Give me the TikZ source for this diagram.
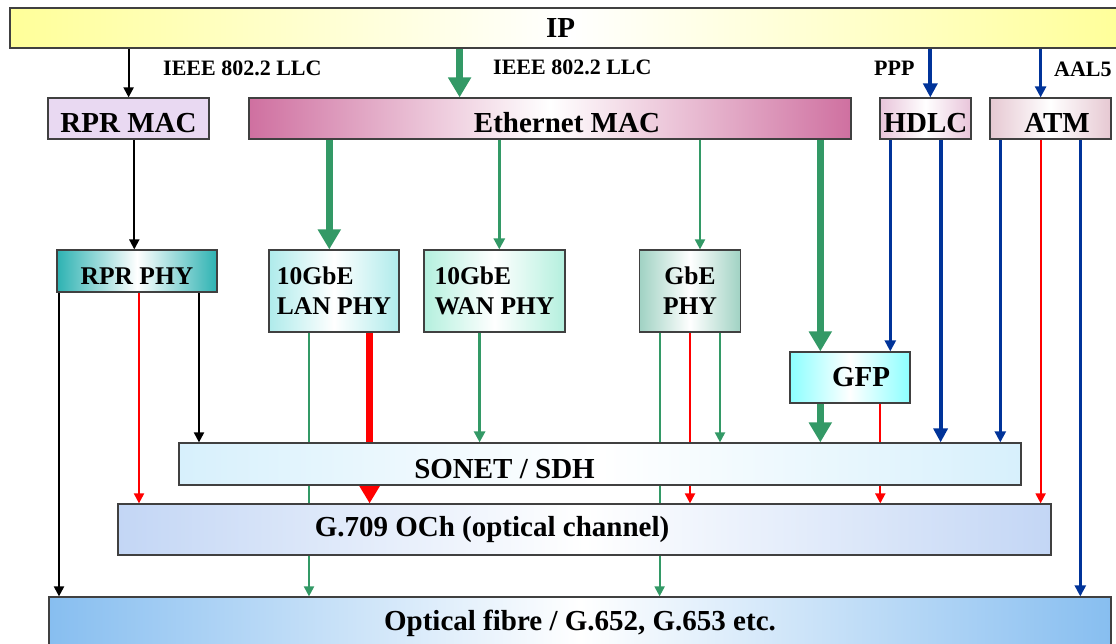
\documentclass[tikz,border=0pt]{standalone}
\usepackage{fontspec}
\setmainfont{Liberation Serif}
\usepackage{xcolor}
\usepackage{tikz}
\usetikzlibrary{arrows.meta,backgrounds}

\definecolor{ethgreen}{RGB}{51,153,102}
\definecolor{hdlcblue}{RGB}{0,51,153}
\definecolor{ipyellow}{RGB}{255,255,153}
\definecolor{rprlav}{RGB}{233,217,242}
\definecolor{macpink}{RGB}{207,112,160}
\definecolor{hdlcpink}{RGB}{232,196,218}
\definecolor{atmpink}{RGB}{230,200,210}
\definecolor{rprteal}{RGB}{45,178,178}
\definecolor{lancyan}{RGB}{175,235,235}
\definecolor{wanmint}{RGB}{180,240,222}
\definecolor{gbegreen}{RGB}{160,210,195}
\definecolor{gfpcyan}{RGB}{140,255,255}
\definecolor{sonetblue}{RGB}{215,240,252}
\definecolor{ochblue}{RGB}{195,214,245}
\definecolor{fibreblue}{RGB}{135,190,240}

\newcommand\bigtxt{\fontsize{29}{32}\selectfont\bfseries}
\newcommand\phytxt{\fontsize{25.5}{30}\selectfont\bfseries}
\newcommand\smalltxt{\fontsize{22}{24}\selectfont\bfseries}

\tikzset{
	box/.style={draw=black!75, line width=1.2pt, inner sep=0pt, font=\bigtxt},
	shade2/.style={left color=#1, right color=#1, middle color=white},
	lowtxt/.style={text height=28pt, text depth=0pt},
	lbl/.style={inner sep=0pt, anchor=west, font=\smalltxt},
	blk/.style={draw=black, line width=2pt, -{Triangle[width=10pt,length=10pt]}},
	redthin/.style={draw=red, line width=2pt, -{Triangle[width=10pt,length=10pt]}},
	redthick/.style={draw=red, line width=7pt, -{Triangle[width=20pt,length=18pt]}},
	grnthin/.style={draw=ethgreen, line width=2pt, -{Triangle[width=10pt,length=10pt]}},
	grnmid/.style={draw=ethgreen, line width=3pt, -{Triangle[width=11pt,length=11pt]}},
	grnthick/.style={draw=ethgreen, line width=7pt, -{Triangle[width=22pt,length=20pt]}},
	bluthin/.style={draw=hdlcblue, line width=2.5pt, -{Triangle[width=11pt,length=11pt]}},
	bluthick/.style={draw=hdlcblue, line width=4pt, -{Triangle[width=14pt,length=14pt]}}
}

\begin{document}
\begin{tikzpicture}[x=1pt,y=-1pt]

\useasboundingbox (0,0) rectangle (1116,644);

% layers, top to bottom
\node[box, shade2=ipyellow, minimum width=1115, minimum height=40] (ip) at (567.5,28) {IP\kern14pt};
\node[box, lowtxt, fill=rprlav, minimum width=161, minimum height=41] (rprmac) at (128.5,118.5) {RPR MAC};
\node[box, lowtxt, shade2=macpink, minimum width=602, minimum height=41] (ethmac) at (550,118.5) {\kern34pt Ethernet MAC};
\node[box, lowtxt, shade2=hdlcpink, minimum width=91, minimum height=41] (hdlc) at (925.5,118.5) {HDLC};
\node[box, lowtxt, shade2=atmpink, minimum width=121, minimum height=41] (atm) at (1050.5,118.5) {\kern13pt ATM};

\node[box, lowtxt, shade2=rprteal, font=\phytxt, minimum width=160, minimum height=42] (rprphy) at (137,271) {RPR PHY};
\node[box, shade2=lancyan, font=\phytxt, align=left, minimum width=130, minimum height=82] (lanphy) at (334,291) {10GbE\\LAN PHY};
\node[box, shade2=wanmint, font=\phytxt, align=left, minimum width=141, minimum height=82] (wanphy) at (494.5,291) {10GbE\\WAN PHY};
\node[box, shade2=gbegreen, font=\phytxt, align=center, minimum width=101, minimum height=82] (gbephy) at (690,291) {GbE\\PHY};
\node[box, shade2=gfpcyan, minimum width=120, minimum height=51] (gfp) at (850,377.5) {\kern22pt GFP};

\node[box, lowtxt, shade2=sonetblue, minimum width=842, minimum height=42] (sonet) at (600,464) {SONET / SDH\kern191pt};
\node[box, shade2=ochblue, minimum width=933, minimum height=51] (g709) at (584.5,529.5) {G.709 OCh (optical channel)\kern185pt};
\node[box, shade2=fibreblue, minimum width=1062, minimum height=53] (fibre) at (580,623.5) {Optical fibre / G.652, G.653 etc.};

% labels under IP
\node[lbl] (llc1) at (163,68.5) {IEEE 802.2 LLC};
\node[lbl] (llc2) at (493,67) {IEEE 802.2 LLC};
\node[lbl] (ppp) at (874,68.5) {PPP};
\node[lbl] (aal5) at (1054,69) {AAL5};

% arrows, behind the boxes
\begin{pgfonlayer}{background}
\foreach \x/\a/\b/\s in {128.6/ip/rprmac/blk, 459.6/ip/ethmac/grnthick, 930.3/ip/hdlc/bluthick, 1040.6/ip/atm/bluthin,
	134.3/rprmac/rprphy/blk, 329.3/ethmac/lanphy/grnthick, 499.3/ethmac/wanphy/grnmid, 700/ethmac/gbephy/grnthin,
	820.3/ethmac/gfp/grnthick, 890.3/hdlc/gfp/bluthin, 940.6/hdlc/sonet/bluthick, 1000.3/atm/sonet/bluthin,
	1040.6/atm/g709/redthin, 1080.3/atm/fibre/bluthin, 59/rprphy/fibre/blk, 139/rprphy/g709/redthin,
	199/rprphy/sonet/blk, 309/lanphy/fibre/grnthin, 369.6/lanphy/g709/redthick, 479.6/wanphy/sonet/grnmid,
	659.6/gbephy/fibre/grnthin, 690/gbephy/g709/redthin, 720/gbephy/sonet/grnthin, 820.3/gfp/sonet/grnthick,
	880.3/gfp/g709/redthin}{
	\coordinate (c) at (\x,0);
	\draw[\s] (\a.south -| c) -- (\b.north -| c);
}
\end{pgfonlayer}

\end{tikzpicture}
\end{document}
